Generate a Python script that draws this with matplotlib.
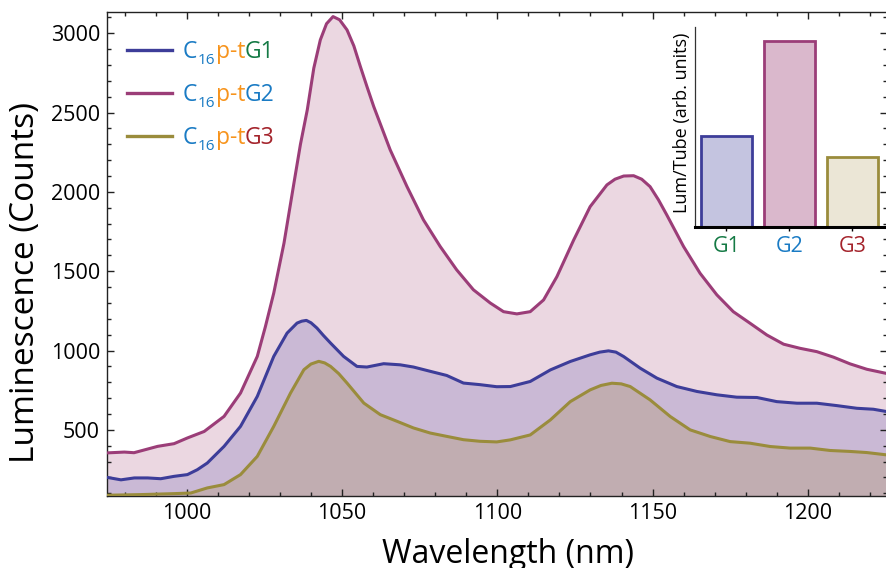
import matplotlib
matplotlib.use('Agg')
import matplotlib.pyplot as plt
from matplotlib.ticker import MultipleLocator
from matplotlib.lines import Line2D

plt.rcParams['font.family'] = ['Open Sans', 'DejaVu Sans']

# ---------------- data ----------------
wl_g2 = [974.5, 979.9, 983.0, 990.6, 995.9, 1000.2, 1005.6, 1012.0, 1017.3, 1022.7,
         1025.3, 1028.0, 1031.3, 1034.5, 1036.6, 1038.8, 1040.9, 1043.0, 1045.0, 1047.1,
         1049.2, 1051.6, 1053.8, 1055.9, 1058.0, 1060.2, 1065.5,
         1070.9, 1076.2, 1081.6, 1086.9, 1092.3, 1097.7, 1102.0, 1106.3, 1110.6, 1114.9,
         1119.2, 1124.6, 1129.9, 1135.3, 1137.9, 1140.7, 1143.9, 1146.5, 1149.2, 1151.9,
         1154.6, 1160.0, 1165.3,
         1170.7, 1176.0, 1181.4, 1186.8, 1192.2, 1197.5, 1202.9, 1208.3, 1213.6, 1219.0,
         1225.5]
lum_g2 = [355, 360, 356, 396, 413, 449, 490, 585, 732, 963,
          1150, 1362, 1677, 2055, 2300, 2517, 2780, 2958, 3060, 3105,
          3085, 3021, 2920, 2790, 2665, 2538, 2265,
          2034, 1824, 1656, 1509, 1383, 1300, 1245, 1231, 1245, 1319,
          1466, 1697, 1907, 2044, 2080, 2100, 2102, 2080, 2033, 1950,
          1854, 1655, 1487,
          1351, 1245, 1172, 1098, 1040, 1014, 993, 958, 916, 882,
          855]

wl_g1 = [974.5, 978.8, 983.1, 987.4, 991.6, 995.9, 1000.2, 1003.4, 1006.6, 1012.0,
         1017.3, 1022.7, 1028.0, 1032.3, 1035.5, 1037.0, 1038.5, 1040.0, 1041.9, 1044.0,
         1046.3, 1050.5, 1054.8,
         1058.0, 1063.4, 1068.7, 1073.0, 1078.4, 1083.7, 1089.1, 1094.4, 1099.8, 1104.2,
         1110.6, 1117.1, 1123.5, 1129.9, 1133.0, 1135.8, 1138.2, 1140.7, 1146.0, 1151.4,
         1157.8, 1164.3,
         1170.7, 1177.1, 1183.6, 1190.0, 1196.5, 1202.9, 1209.3, 1215.8, 1221.1, 1225.5]
lum_g1 = [200, 185, 197, 197, 192, 207, 218, 249, 291, 396,
          522, 711, 963, 1110, 1173, 1185, 1190, 1175, 1142, 1095,
          1047, 963, 900,
          896, 917, 910, 896, 869, 843, 795, 785, 772, 773,
          805, 878, 931, 973, 990, 998, 990, 962, 889, 826,
          773, 742,
          721, 706, 704, 678, 668, 668, 653, 636, 630, 615]

wl_g3 = [974.5, 985.2, 995.9, 1001.3, 1006.6, 1012.0, 1017.3, 1022.7, 1028.0, 1033.4,
         1037.7, 1040.0, 1042.5, 1044.4, 1046.3, 1048.9, 1051.6, 1057.0, 1062.3, 1067.7,
         1073.0, 1078.4, 1083.7,
         1089.1, 1094.4, 1099.8, 1104.2, 1110.6, 1117.1, 1123.5, 1129.9, 1133.4, 1136.9,
         1139.9, 1142.8,
         1149.2, 1155.7, 1162.1, 1168.6, 1175.0, 1181.4, 1187.9, 1194.3, 1200.8, 1207.2,
         1213.6, 1219.0, 1225.5]
lum_g3 = [88, 92, 98, 102, 134, 155, 218, 333, 522, 732,
          879, 915, 932, 922, 900, 855, 795, 669, 596, 554,
          512, 480, 459,
          438, 428, 424, 437, 468, 563, 678, 752, 780, 794,
          790, 773,
          689, 584, 500, 458, 426, 416, 395, 385, 385, 370,
          364, 357, 342]

bar_labels = ['G1', 'G2', 'G3']
bar_values = [91, 186, 70]   # Lum/Tube (arb. units)

series_names = ['G1', 'G2', 'G3']

# ---------------- styles ----------------
line_colors = {'G1': '#3d3d99', 'G2': '#9b3d78', 'G3': '#9a8c3c'}
fill_colors = {'G1': '#cab9d5', 'G2': '#ebd7e1', 'G3': '#c1adb1'}
bar_fill = ['#c4c4e0', '#dab8cc', '#ebe6d6']
label_colors = {'G1': '#157a45', 'G2': '#1a7bc4', 'G3': '#a4242c'}
c_blue = '#1a7bc4'
c_orange = '#f7941d'

fig = plt.figure(figsize=(8.86, 5.68), dpi=100)
ax = fig.add_axes([107 / 886, 1 - 495.7 / 568, 780 / 886, 483.4 / 568])

data = {'G1': (wl_g1, lum_g1), 'G2': (wl_g2, lum_g2), 'G3': (wl_g3, lum_g3)}
for name in ['G2', 'G1', 'G3']:
    wl, lum = data[name]
    ax.fill_between(wl, lum, 0, color=fill_colors[name], lw=0, zorder=1)
for name in ['G2', 'G1', 'G3']:
    wl, lum = data[name]
    ax.plot(wl, lum, color=line_colors[name], lw=2.2, zorder=3,
            solid_capstyle='round', solid_joinstyle='round')

ax.set_xlim(974.3, 1225.5)
ax.set_ylim(85, 3132)
ax.xaxis.set_major_locator(MultipleLocator(50))
ax.xaxis.set_minor_locator(MultipleLocator(10))
ax.yaxis.set_major_locator(MultipleLocator(500))
ax.yaxis.set_minor_locator(MultipleLocator(100))
ax.tick_params(which='both', direction='in', top=True, right=True, width=1.0, color='#222222')
ax.tick_params(which='major', length=5)
ax.tick_params(which='minor', length=3)
ax.tick_params(axis='both', labelsize=15.5, pad=5)
for s in ax.spines.values():
    s.set_linewidth(1.0)
    s.set_color('#222222')

ax.set_xlabel('Wavelength (nm)', fontsize=23)
ax.set_ylabel('Luminescence (Counts)', fontsize=24)
ax.xaxis.set_label_coords(0.514, -0.088)
ax.yaxis.set_label_coords(-0.083, 0.442)

# ---------------- legend (multi-coloured labels) ----------------
row_y = [0.922, 0.833, 0.744]
fig.canvas.draw()
for name, ry in zip(series_names, row_y):
    ax.add_line(Line2D([0.0256, 0.0833], [ry, ry], transform=ax.transAxes,
                       color=line_colors[name], lw=2.4, clip_on=False, zorder=5))
    t1 = ax.text(0.0974, ry - 0.0170, 'C', transform=ax.transAxes, fontsize=16.5,
                 color=c_blue, va='baseline', ha='left', zorder=6)
    t2 = ax.annotate('16', xy=(1, 0), xycoords=t1, xytext=(0.3, -2.5),
                     textcoords='offset points', fontsize=11, color=c_blue,
                     va='bottom', ha='left', zorder=6)
    t3 = ax.annotate('p-t', xy=(1, 0), xycoords=(t2, t1), xytext=(0.2, 0),
                     textcoords='offset points', fontsize=16.5, color=c_orange,
                     va='bottom', ha='left', zorder=6)
    t4 = ax.annotate(name, xy=(1, 0), xycoords=t3, fontsize=16.5,
                     color=label_colors[name], va='bottom', ha='left', zorder=6)

# ---------------- inset bar chart ----------------
axin = fig.add_axes([695 / 886, 1 - 226.7 / 568, 190 / 886, 199.7 / 568])
axin.patch.set_alpha(0)
xpos = list(range(len(bar_labels)))
axin.bar(xpos, bar_values, width=0.81, color=bar_fill,
         edgecolor=[line_colors[n] for n in bar_labels], linewidth=2)
axin.set_xlim(-0.5, 2.52)
axin.set_ylim(0, 200)
axin.set_xticks(xpos)
axin.set_xticklabels(bar_labels, fontsize=15.5)
for lbl, n in zip(axin.get_xticklabels(), bar_labels):
    lbl.set_color(label_colors[n])
axin.set_yticks([])
axin.tick_params(axis='x', direction='out', length=3, width=1, pad=3.5)
axin.spines['top'].set_visible(False)
axin.spines['right'].set_visible(False)
axin.spines['bottom'].set_linewidth(2.2)
axin.spines['bottom'].set_color('black')
axin.spines['left'].set_linewidth(0.9)
axin.spines['left'].set_color('#333333')
axin.set_ylabel('Lum/Tube (arb. units)', fontsize=13)
axin.yaxis.set_label_coords(-0.02, 0.52)

fig.savefig('out.png', dpi=100)
